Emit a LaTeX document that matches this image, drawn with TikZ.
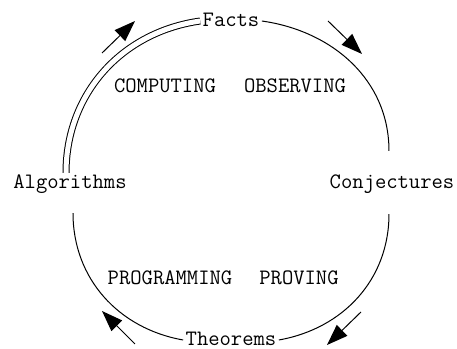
\documentclass[tikz,border=0pt]{standalone}
\usetikzlibrary{arrows.meta}

\begin{document}
\begin{tikzpicture}[x=0.5pt, y=0.5pt, line width=0.5pt,
  n/.style={inner sep=1pt, text height=1.5ex, text depth=.25ex,
            font=\ttfamily\fontsize{11}{13}\selectfont},
  act/.style={font=\ttfamily\fontsize{11}{13}\selectfont},
  fl/.style={-{Triangle[length=10.5pt,width=7.5pt]}}]
\useasboundingbox (0,0) rectangle (457,349);
% the four stations
\node[n] (facts) at (231,328) {Facts};
\node[n] (conj) at (392,166) {Conjectures};
\node[n] (theo) at (231,9) {Theorems};
\node[n] (algo) at (70,166) {Algorithms};
% activities
\node[act] (comp) at (165,263) {COMPUTING};
\node[act] (obs) at (295,263) {OBSERVING};
\node[act] (prog) at (170,71) {PROGRAMMING};
\node[act] (prov) at (299,71) {PROVING};
% the cycle
\draw[double, double distance=2.5pt] ([xshift=-2pt]algo.north) to[out=90,in=188] (facts.west);
\draw (facts.east) to[out=-8,in=90] ([xshift=-1.5pt,yshift=11pt]conj.north);
\draw ([xshift=-1.5pt,yshift=-10.5pt]conj.south) to[out=-90,in=10] (theo.east);
\draw (theo.west) to[out=170,in=-90] ([xshift=1.5pt,yshift=-10pt]algo.south);
% direction arrows
\coordinate (a1) at (102,296); \coordinate (b1) at (135,328);
\coordinate (a2) at (328,328); \coordinate (b2) at (362,295);
\coordinate (a3) at (361,37);  \coordinate (b3) at (327,4);
\coordinate (a4) at (135,5);   \coordinate (b4) at (102,38);
\foreach \i in {1,...,4}
  \draw[fl] (a\i) -- (b\i);
\end{tikzpicture}
\end{document}
